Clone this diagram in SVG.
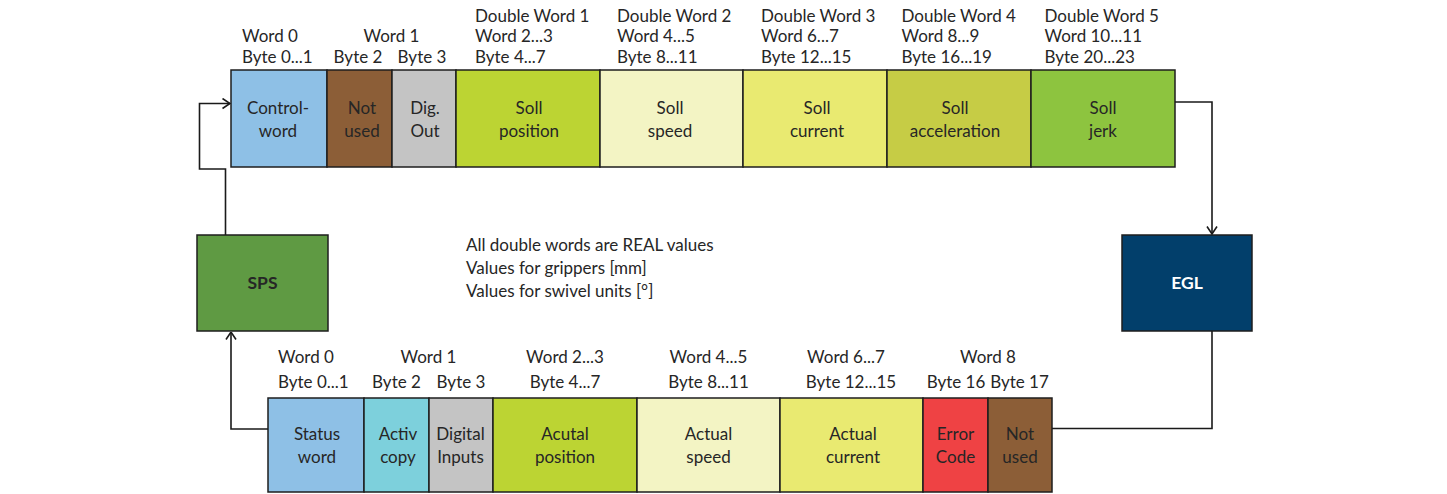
<svg xmlns="http://www.w3.org/2000/svg" width="1447" height="494" viewBox="0 0 1447 494">
  <defs>
    <style>
      .box { stroke: #1e1e1e; stroke-width: 1.5; }
      .t { font-family: Lato, "Open Sans", "Liberation Sans", sans-serif; font-size: 17px; fill: #262626; }
      .c { text-anchor: middle; }
      .b { font-weight: bold; font-size: 17.5px; }
      .w { fill: #ffffff; }
      .wire { fill: none; stroke: #1a1a1a; stroke-width: 1.6; }
    </style>
    <marker id="arrow" viewBox="0 0 10 12" refX="9.5" refY="6" markerWidth="10" markerHeight="12" markerUnits="userSpaceOnUse" orient="auto">
      <path d="M2,1 L9.5,6 L2,11" fill="none" stroke="#1a1a1a" stroke-width="1.6"/>
    </marker>
  </defs>
  <rect width="1447" height="494" fill="#ffffff"/>

  <!-- output telegram: header labels -->
  <g id="top-headers" class="t">
    <text x="242" y="42">Word 0</text>
    <text x="242" y="62.5">Byte 0...1</text>
    <text class="c" x="391.5" y="42">Word 1</text>
    <text class="c" x="358" y="62.5">Byte 2</text>
    <text class="c" x="422" y="62.5">Byte 3</text>
    <text x="475" y="21.5">Double Word 1</text>
    <text x="475" y="42">Word 2...3</text>
    <text x="475" y="62.5">Byte 4...7</text>
    <text x="617" y="21.5">Double Word 2</text>
    <text x="617" y="42">Word 4...5</text>
    <text x="617" y="62.5">Byte 8...11</text>
    <text x="761" y="21.5">Double Word 3</text>
    <text x="761" y="42">Word 6...7</text>
    <text x="761" y="62.5">Byte 12...15</text>
    <text x="901.5" y="21.5">Double Word 4</text>
    <text x="901.5" y="42">Word 8...9</text>
    <text x="901.5" y="62.5">Byte 16...19</text>
    <text x="1044.5" y="21.5">Double Word 5</text>
    <text x="1044.5" y="42">Word 10...11</text>
    <text x="1044.5" y="62.5">Byte 20...23</text>
  </g>

  <!-- output telegram: fields -->
  <g id="controlword">
    <rect class="box" x="231" y="70" width="96" height="97" fill="#8ec0e6"/>
    <text class="t c" x="278" y="114">Control-</text>
    <text class="t c" x="278" y="137">word</text>
  </g>
  <g id="not-used-out">
    <rect class="box" x="327" y="70" width="65" height="97" fill="#8c5e37"/>
    <text class="t c" x="362" y="114">Not</text>
    <text class="t c" x="362" y="137">used</text>
  </g>
  <g id="dig-out">
    <rect class="box" x="392" y="70" width="64" height="97" fill="#c4c4c4"/>
    <text class="t c" x="425" y="114">Dig.</text>
    <text class="t c" x="425" y="137">Out</text>
  </g>
  <g id="soll-position">
    <rect class="box" x="456" y="70" width="144" height="97" fill="#bcd433"/>
    <text class="t c" x="529" y="114">Soll</text>
    <text class="t c" x="529" y="137">position</text>
  </g>
  <g id="soll-speed">
    <rect class="box" x="600" y="70" width="143" height="97" fill="#f3f4c4"/>
    <text class="t c" x="670" y="114">Soll</text>
    <text class="t c" x="670" y="137">speed</text>
  </g>
  <g id="soll-current">
    <rect class="box" x="743" y="70" width="144" height="97" fill="#e9ea71"/>
    <text class="t c" x="817" y="114">Soll</text>
    <text class="t c" x="817" y="137">current</text>
  </g>
  <g id="soll-acceleration">
    <rect class="box" x="887" y="70" width="144" height="97" fill="#c6cc45"/>
    <text class="t c" x="955" y="114">Soll</text>
    <text class="t c" x="955" y="137">acceleration</text>
  </g>
  <g id="soll-jerk">
    <rect class="box" x="1031" y="70" width="144" height="97" fill="#8dc43f"/>
    <text class="t c" x="1103" y="114">Soll</text>
    <text class="t c" x="1103" y="137">jerk</text>
  </g>

  <!-- controllers -->
  <g id="sps">
    <rect class="box" x="197" y="235" width="131" height="96" fill="#5f9a43"/>
    <text class="t c b" x="262.5" y="289">SPS</text>
  </g>
  <g id="egl">
    <rect class="box" x="1122" y="235" width="130" height="96" fill="#023f6b"/>
    <text class="t c b w" x="1187" y="289">EGL</text>
  </g>

  <!-- notes -->
  <g id="notes" class="t">
    <text x="466" y="250.5">All double words are REAL values</text>
    <text x="466" y="273.5">Values for grippers [mm]</text>
    <text x="466" y="296.5">Values for swivel units [°]</text>
  </g>

  <!-- input telegram: header labels -->
  <g id="bottom-headers" class="t">
    <text x="278" y="363">Word 0</text>
    <text x="278" y="388">Byte 0...1</text>
    <text class="c" x="428.5" y="363">Word 1</text>
    <text class="c" x="396.5" y="388">Byte 2</text>
    <text class="c" x="461" y="388">Byte 3</text>
    <text class="c" x="565" y="363">Word 2...3</text>
    <text class="c" x="565" y="388">Byte 4...7</text>
    <text class="c" x="708.5" y="363">Word 4...5</text>
    <text class="c" x="708.5" y="388">Byte 8...11</text>
    <text class="c" x="846" y="363">Word 6...7</text>
    <text class="c" x="851" y="388">Byte 12...15</text>
    <text class="c" x="988" y="363">Word 8</text>
    <text class="c" x="956" y="388">Byte 16</text>
    <text class="c" x="1019.5" y="388">Byte 17</text>
  </g>

  <!-- input telegram: fields -->
  <g id="statusword">
    <rect class="box" x="268" y="398" width="96" height="94" fill="#8ec0e6"/>
    <text class="t c" x="317" y="440">Status</text>
    <text class="t c" x="317" y="462.5">word</text>
  </g>
  <g id="activ-copy">
    <rect class="box" x="364" y="398" width="65" height="94" fill="#7dd0dc"/>
    <text class="t c" x="398" y="440">Activ</text>
    <text class="t c" x="398" y="462.5">copy</text>
  </g>
  <g id="digital-inputs">
    <rect class="box" x="429" y="398" width="64" height="94" fill="#c4c4c4"/>
    <text class="t c" x="460.5" y="440">Digital</text>
    <text class="t c" x="460.5" y="462.5">Inputs</text>
  </g>
  <g id="actual-position">
    <rect class="box" x="493" y="398" width="144" height="94" fill="#bcd433"/>
    <text class="t c" x="565" y="440">Acutal</text>
    <text class="t c" x="565" y="462.5">position</text>
  </g>
  <g id="actual-speed">
    <rect class="box" x="637" y="398" width="143" height="94" fill="#f3f4c4"/>
    <text class="t c" x="708.5" y="440">Actual</text>
    <text class="t c" x="708.5" y="462.5">speed</text>
  </g>
  <g id="actual-current">
    <rect class="box" x="780" y="398" width="143" height="94" fill="#e9ea71"/>
    <text class="t c" x="853" y="440">Actual</text>
    <text class="t c" x="853" y="462.5">current</text>
  </g>
  <g id="error-code">
    <rect class="box" x="923" y="398" width="65" height="94" fill="#ef4244"/>
    <text class="t c" x="955.5" y="440">Error</text>
    <text class="t c" x="955.5" y="462.5">Code</text>
  </g>
  <g id="not-used-in">
    <rect class="box" x="988" y="398" width="64" height="94" fill="#8c5e37"/>
    <text class="t c" x="1020" y="440">Not</text>
    <text class="t c" x="1020" y="462.5">used</text>
  </g>

  <!-- data flow -->
  <g id="connectors">
    <path class="wire" d="M1175,102 H1212 V234" marker-end="url(#arrow)"/>
    <path class="wire" d="M1212,331 V428.5 H1052"/>
    <path class="wire" d="M268,429 H231 V332" marker-end="url(#arrow)"/>
    <path class="wire" d="M225.5,235 V169 H199.5 V103.5 H230" marker-end="url(#arrow)"/>
  </g>
</svg>
